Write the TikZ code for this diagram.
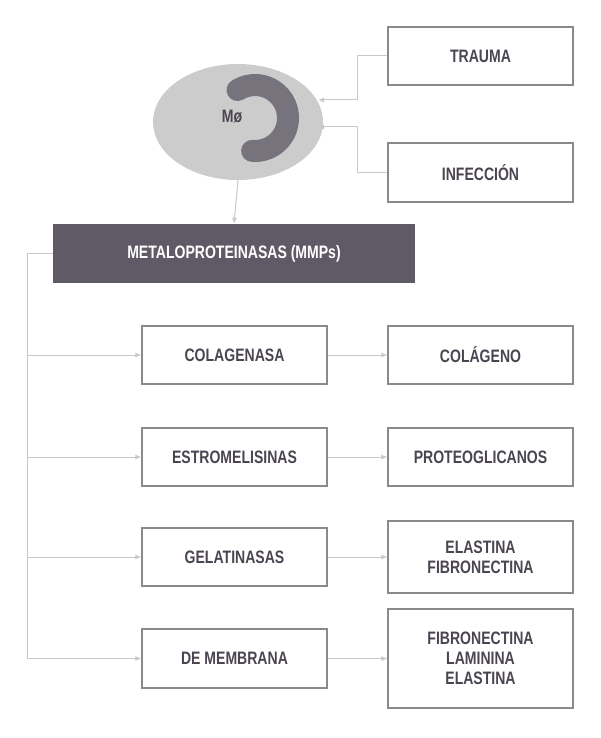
\documentclass[tikz,border=0pt]{standalone}
\usepackage{fontspec}
\setmainfont{Liberation Sans}[FakeStretch=0.78]
\usetikzlibrary{arrows.meta,shapes.geometric}
\definecolor{txt}{HTML}{4A4550}
\definecolor{dark}{HTML}{5F5A66}
\definecolor{bord}{HTML}{8A8A8A}
\definecolor{conn}{HTML}{C8C8C8}
\begin{document}
\begin{tikzpicture}[x=1pt,y=-1pt,
  box/.style={draw=bord,line width=1.2pt,minimum width=185pt,align=center,font=\bfseries\fontsize{18}{20}\selectfont,text=txt,inner sep=0pt},
  con/.style={draw=conn,line width=1pt},
  arr/.style={con,-{Latex[length=6pt,width=5pt]}}]
\useasboundingbox (0,0) rectangle (600,738);
\node[draw=none,fill=black!20,ellipse,minimum width=170pt,minimum height=116pt] (mo) at (238,122) {};
\draw[line width=22pt,line cap=round,color=dark!85] (255,118) ++(95:33) arc[start angle=95,end angle=-122,radius=33];
\node[font=\bfseries\fontsize{18}{20}\selectfont,text=txt] (mot) at (232,117) {Mø};
\node[box,minimum height=58pt] (tr) at (480.5,56) {TRAUMA};
\node[box,minimum height=59pt] (inf) at (480.5,172.5) {INFECCIÓN};
\node[fill=dark,minimum width=362pt,minimum height=59pt,text=white,font=\bfseries\fontsize{18}{20}\selectfont,inner sep=0pt] (mmp) at (234,253.5) {METALOPROTEINASAS (MMPs)};
\node[box,minimum height=58pt] (c1) at (234.5,355) {COLAGENASA};
\node[box,minimum height=58pt] (d1) at (480.5,355) {COLÁGENO};
\node[box,minimum height=58pt] (c2) at (234.5,457) {ESTROMELISINAS};
\node[box,minimum height=58pt] (d2) at (480.5,457) {PROTEOGLICANOS};
\node[box,minimum height=58pt] (c3) at (234.5,557) {GELATINASAS};
\node[box,minimum height=72pt] (d3) at (480.5,557) {ELASTINA\\FIBRONECTINA};
\node[box,minimum height=59pt] (c4) at (234.5,658.5) {DE MEMBRANA};
\node[box,minimum height=99pt] (d4) at (480.5,658.5) {FIBRONECTINA\\LAMININA\\ELASTINA};
\coordinate (ta) at (318,100);
\coordinate (ia) at (318,127);
\coordinate (lx) at (27,0);
\draw[arr] (tr.west) -- (357,56) -- (357,100) -- (ta);
\draw[arr] (inf.west) -- (357,172.5) -- (357,127) -- (ia);
\draw[arr] (mo.south) -- (mmp.north);
\coordinate (bot) at (27,658.5);
\draw[con] (mmp.west) -- (27,253.5) -- (bot);
\foreach \c/\d in {c1/d1,c2/d2,c3/d3,c4/d4}{
  \draw[arr] (lx |- \c.west) -- (\c.west);
  \draw[arr] (\c.east) -- (\c.east -| \d.west);
}
\end{tikzpicture}
\end{document}
